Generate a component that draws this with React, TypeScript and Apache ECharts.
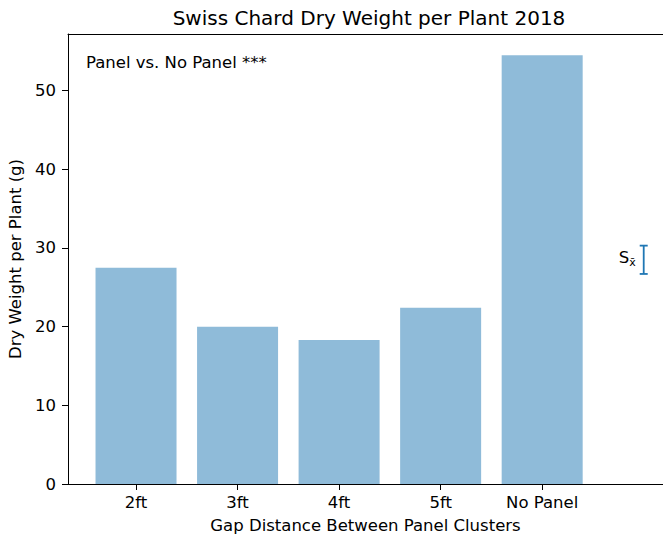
import React, { useEffect, useRef } from "react";
import * as echarts from "echarts";

const categories = ["2ft", "3ft", "4ft", "5ft", "No Panel"];
const dryWeights = [27.5, 20.0, 18.3, 22.4, 54.5];
const yTicks = [0, 10, 20, 30, 40, 50];
const xTicks = [0, 1, 2, 3, 4];
// standard error bar: [x position, center, half-length]
const errorBar = [[5, 28.5, 1.8]];
const title = "Swiss Chard Dry Weight per Plant 2018";
const annotation = "Panel vs. No Panel ***";

const FONT = "DejaVu Sans";
const FS = 16.5;

export default function App() {
  const ref = useRef<HTMLDivElement>(null);
  useEffect(() => {
    const chart = echarts.init(ref.current!, null, { renderer: "svg" });
    chart.setOption({
      animation: false,
      backgroundColor: "#ffffff",
      textStyle: { fontFamily: FONT },
      graphic: [
        {
          type: "text",
          x: 369,
          y: 18,
          style: {
            text: title,
            font: `20px "${FONT}"`,
            fill: "#000",
            align: "center",
            verticalAlign: "middle",
          },
        },
        {
          type: "text",
          left: 86,
          top: 54,
          style: { text: annotation, font: `${FS}px "${FONT}"`, fill: "#000" },
        },
      ],
      grid: {
        left: 68,
        top: 34,
        width: 595,
        height: 450,
        show: false,
        containLabel: false,
        outerBoundsMode: "none",
      },
      xAxis: [
        {
          type: "value",
          min: -0.67,
          max: 5.19,
          name: "Gap Distance Between Panel Clusters",
          nameLocation: "middle",
          nameGap: 33,
          nameTextStyle: { fontFamily: FONT, fontSize: FS, color: "#000" },
          axisLine: { show: true, onZero: false, lineStyle: { color: "#000" } },
          splitLine: { show: false },
          axisTick: {
            show: true,
            length: 6,
            lineStyle: { color: "#000" },
            customValues: xTicks,
          },
          axisLabel: {
            customValues: xTicks,
            formatter: (v: number) => categories[Math.round(v)] ?? "",
            fontFamily: FONT,
            fontSize: FS,
            color: "#000",
            margin: 10,
          },
        },
        {
          type: "value",
          position: "top",
          min: -0.67,
          max: 5.19,
          axisLine: { show: true, onZero: false, lineStyle: { color: "#000" } },
          axisTick: { show: false },
          axisLabel: { show: false },
          splitLine: { show: false },
        },
      ],
      yAxis: {
        type: "value",
        min: 0,
        max: 57.2,
        name: "Dry Weight per Plant (g)",
        nameLocation: "middle",
        nameGap: 40,
        nameTextStyle: { fontFamily: FONT, fontSize: FS, color: "#000" },
        axisLine: { show: true, onZero: false, lineStyle: { color: "#000" } },
        splitLine: { show: false },
        axisTick: {
          show: true,
          length: 6,
          lineStyle: { color: "#000" },
          customValues: yTicks,
        },
        axisLabel: {
          customValues: yTicks,
          fontFamily: FONT,
          fontSize: FS,
          color: "#000",
          margin: 12,
        },
      },
      series: [
        {
          type: "bar",
          data: dryWeights.map((v, i) => [i, v]),
          barWidth: 81,
          itemStyle: { color: "rgba(31,119,180,0.5)" },
        },
        {
          type: "custom",
          data: errorBar,
          renderItem: (params: any, api: any) => {
            const x = api.value(0);
            const c = api.value(1);
            const e = api.value(2);
            const top = api.coord([x, c + e]);
            const bot = api.coord([x, c - e]);
            const cap = 4;
            const st = { stroke: "#1f77b4", lineWidth: 1.8 };
            return {
              type: "group",
              children: [
                { type: "line", shape: { x1: top[0], y1: top[1], x2: bot[0], y2: bot[1] }, style: st },
                { type: "line", shape: { x1: top[0] - cap, y1: top[1], x2: top[0] + cap, y2: top[1] }, style: st },
                { type: "line", shape: { x1: bot[0] - cap, y1: bot[1], x2: bot[0] + cap, y2: bot[1] }, style: st },
                {
                  type: "text",
                  x: top[0] - 8,
                  y: (top[1] + bot[1]) / 2 - 2,
                  style: {
                    text: "{s|S}{x|x̄}",
                    align: "right",
                    verticalAlign: "middle",
                    rich: {
                      s: { fontFamily: FONT, fontSize: FS, fill: "#000", color: "#000" },
                      x: { fontFamily: FONT, fontSize: 11, fill: "#000", color: "#000", padding: [9, 0, 0, 0] },
                    },
                  },
                },
              ],
            };
          },
        },
      ],
    });
    return () => chart.dispose();
  }, []);
  return (
    <div
      ref={ref}
      style={{ position: "absolute", left: 0, top: 0, width: 663, height: 538 }}
    />
  );
}
